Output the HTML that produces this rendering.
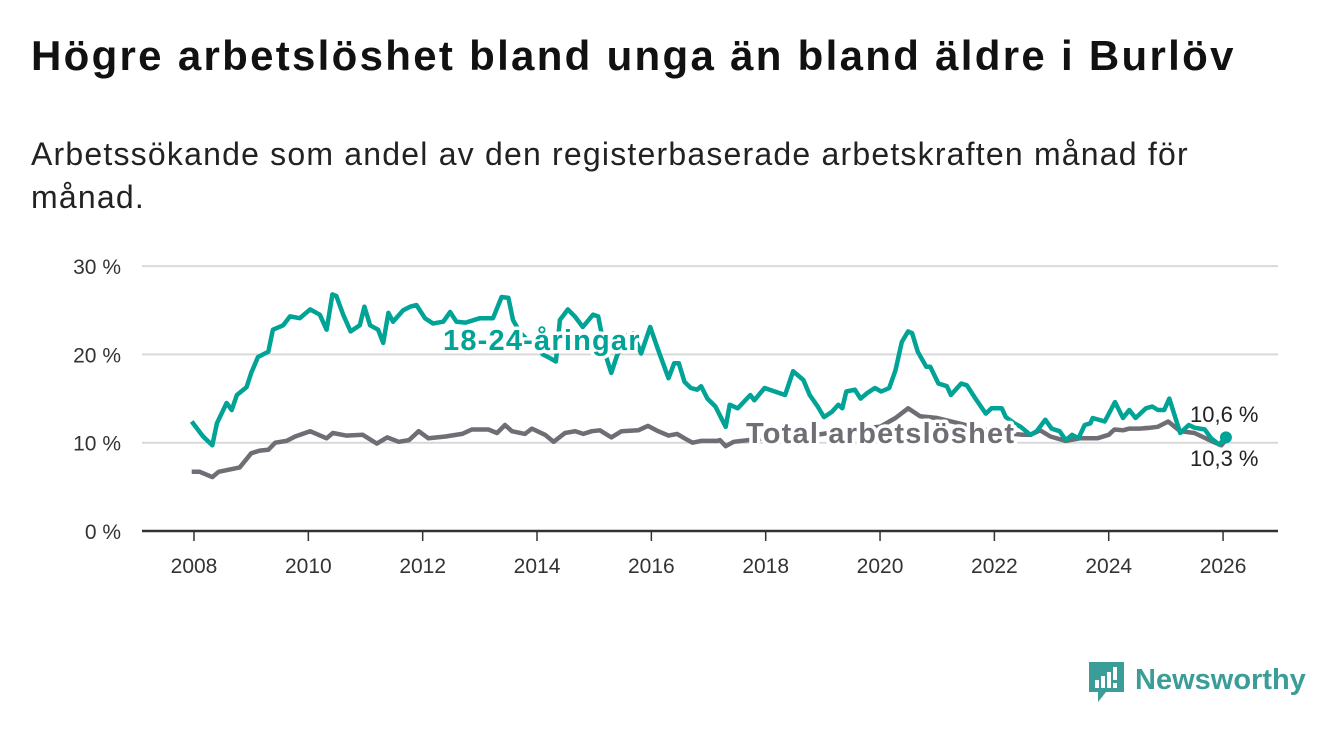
<!DOCTYPE html>
<html><head><meta charset="utf-8"><style>
body{margin:0;background:#fff;width:1340px;height:734px;overflow:hidden;font-family:"Liberation Sans",sans-serif}
#title{position:absolute;left:31px;top:32px;font-size:42px;letter-spacing:2.3px;font-weight:bold;color:#111;margin:0;white-space:nowrap}
#sub{position:absolute;left:31px;top:133px;font-size:32px;letter-spacing:1.2px;color:#222;line-height:43px;width:1210px}
svg{position:absolute;left:0;top:0}
</style></head><body>
<h1 id="title">Högre arbetslöshet bland unga än bland äldre i Burlöv</h1>
<div id="sub">Arbetssökande som andel av den registerbaserade arbetskraften månad för månad.</div>
<svg id="chart" width="1340" height="734"></svg>
<script>
const yTicks=[0,10,20,30];
const xTicks=[2008,2010,2012,2014,2016,2018,2020,2022,2024,2026];
const youthT=[2007.96,2008.16,2008.32,2008.4,2008.57,2008.66,2008.75,2008.92,2009.0,2009.12,2009.3,2009.38,2009.56,2009.68,2009.85,2010.03,2010.2,2010.32,2010.42,2010.49,2010.61,2010.74,2010.9,2010.98,2011.08,2011.22,2011.31,2011.4,2011.48,2011.66,2011.78,2011.89,2012.04,2012.18,2012.36,2012.48,2012.59,2012.75,2013.0,2013.23,2013.38,2013.5,2013.58,2013.7,2013.85,2014.0,2014.1,2014.22,2014.33,2014.4,2014.54,2014.66,2014.8,2014.98,2015.07,2015.21,2015.3,2015.39,2015.53,2015.68,2015.82,2015.98,2016.12,2016.3,2016.4,2016.48,2016.58,2016.69,2016.8,2016.87,2016.98,2017.12,2017.3,2017.37,2017.51,2017.73,2017.8,2017.98,2018.16,2018.34,2018.48,2018.66,2018.77,2018.91,2019.02,2019.16,2019.27,2019.34,2019.41,2019.56,2019.66,2019.77,2019.91,2020.02,2020.16,2020.27,2020.38,2020.49,2020.56,2020.66,2020.81,2020.88,2021.02,2021.17,2021.24,2021.42,2021.52,2021.67,2021.85,2021.95,2022.13,2022.2,2022.35,2022.46,2022.63,2022.74,2022.89,2023.0,2023.14,2023.25,2023.36,2023.47,2023.58,2023.68,2023.72,2023.93,2024.11,2024.25,2024.36,2024.47,2024.65,2024.76,2024.86,2024.97,2025.06,2025.25,2025.4,2025.5,2025.68,2025.79,2025.93,2026.05];
const youthV=[12.4,10.7,9.7,12.2,14.5,13.7,15.4,16.3,17.9,19.7,20.3,22.8,23.3,24.3,24.1,25.1,24.5,22.8,26.8,26.6,24.5,22.6,23.3,25.4,23.3,22.8,21.3,24.7,23.7,25.0,25.4,25.6,24.1,23.5,23.7,24.8,23.7,23.6,24.1,24.1,26.5,26.4,23.9,22.5,21.5,21.0,20.0,19.6,19.2,23.9,25.1,24.3,23.1,24.5,24.3,19.7,17.9,19.7,22.0,22.4,20.1,23.1,20.5,17.3,19.0,19.0,16.9,16.2,16.0,16.4,15.0,14.1,11.8,14.3,13.9,15.4,14.8,16.2,15.8,15.4,18.1,17.1,15.4,14.1,12.9,13.5,14.3,13.9,15.8,16.0,15.0,15.6,16.2,15.8,16.2,18.2,21.4,22.6,22.4,20.3,18.6,18.6,16.7,16.4,15.4,16.7,16.5,15.0,13.3,13.9,13.9,12.9,12.2,11.8,10.9,11.3,12.6,11.6,11.3,10.3,10.9,10.5,12.0,12.2,12.8,12.4,14.6,12.8,13.7,12.8,13.9,14.1,13.7,13.7,15.0,11.1,12.0,11.7,11.5,10.5,9.8,10.6];
const totalT=[2007.96,2008.1,2008.32,2008.43,2008.8,2009.0,2009.15,2009.3,2009.42,2009.62,2009.77,2010.03,2010.32,2010.43,2010.66,2010.95,2011.2,2011.38,2011.58,2011.76,2011.93,2012.1,2012.4,2012.69,2012.86,2013.15,2013.3,2013.44,2013.56,2013.79,2013.91,2014.14,2014.29,2014.49,2014.67,2014.81,2014.96,2015.1,2015.3,2015.48,2015.77,2015.94,2016.12,2016.3,2016.45,2016.58,2016.72,2016.87,2017.15,2017.2,2017.3,2017.44,2017.58,2018.0,2018.5,2019.0,2019.5,2020.0,2020.27,2020.49,2020.7,2021.0,2021.5,2022.0,2022.5,2022.63,2022.8,2022.98,2023.25,2023.5,2023.8,2024.0,2024.1,2024.25,2024.36,2024.54,2024.73,2024.86,2025.04,2025.25,2025.5,2025.79,2025.97,2026.05];
const totalV=[6.7,6.7,6.1,6.7,7.2,8.8,9.1,9.2,10.0,10.2,10.7,11.3,10.5,11.1,10.8,10.9,9.9,10.6,10.1,10.3,11.3,10.5,10.7,11.0,11.5,11.5,11.1,12.0,11.3,11.0,11.6,10.9,10.1,11.1,11.3,11.0,11.3,11.4,10.6,11.3,11.4,11.9,11.3,10.8,11.0,10.5,10.0,10.2,10.2,10.3,9.6,10.1,10.2,10.5,10.6,11.0,11.5,11.8,12.8,13.9,13.0,12.8,12.0,11.2,10.9,10.9,11.4,10.7,10.2,10.5,10.5,10.9,11.5,11.4,11.6,11.6,11.7,11.8,12.4,11.3,11.1,10.2,9.7,10.3];
const NS='http://www.w3.org/2000/svg';
const svg=document.getElementById('chart');
const x=t=>194+(t-2008)*57.17;
const y=v=>531-v*8.83;
function mk(tag,attrs,parent){const e=document.createElementNS(NS,tag);for(const k in attrs)e.setAttribute(k,attrs[k]);(parent||svg).appendChild(e);return e;}
yTicks.forEach(v=>{
  if(v>0){const g=mk('line',{x1:142,x2:1278,y1:y(v),y2:y(v),stroke:'#d9d9d9','stroke-width':2});
  
  }
  const t=mk('text',{x:121,y:y(v)+8,'text-anchor':'end','font-size':21,fill:'#333'});
  t.textContent=v+' %';
  
  
});
const ax=mk('line',{x1:142,x2:1278,y1:531,y2:531,stroke:'#333','stroke-width':2.5});


xTicks.forEach(yr=>{
  const tk=mk('line',{x1:x(yr),x2:x(yr),y1:531,y2:541,stroke:'#333','stroke-width':1.5});
  
  
  const t=mk('text',{x:x(yr),y:573,'text-anchor':'middle','font-size':21,fill:'#333'});
  t.textContent=yr;
  
  
});
function line(T,V,color,name){
  const d=T.map((t,i)=>(i?'L':'M')+x(t).toFixed(1)+','+y(V[i]).toFixed(1)).join('');
  const p=mk('path',{d:d,fill:'none',stroke:color,'stroke-width':4.5,'stroke-linejoin':'round'});
  
  
  return p;
}
line(totalT,totalV,'#6f6e75','total-line');
line(youthT,youthV,'#00a396','youth-line');
const dot=mk('circle',{cx:x(youthT[youthT.length-1]),cy:y(youthV[youthV.length-1]),r:6,fill:'#00a396'});


function lbl(txt,px,py,color,size,bold,ls,name){
  const t=mk('text',{x:px,y:py,'font-size':size,'letter-spacing':ls,fill:color,'font-weight':bold?'bold':'normal',stroke:'#fff','stroke-width':bold?7:0,'paint-order':'stroke','stroke-linejoin':'round'});
  t.textContent=txt;
  
  
}
lbl('18-24-åringar',443,350,'#00a396',29,true,1.2,'youth-series-label');
lbl('Total arbetslöshet',746,443,'#6f6e75',29,true,1.2,'total-series-label');
lbl('10,6 %',1190,422,'#222',22,false,0,'youth-end-value');
lbl('10,3 %',1190,466,'#222',22,false,0,'total-end-value');
const lg=mk('g',{});


mk('path',{d:'M1089 662h35v30h-18l-8 10v-10h-9z',fill:'#3a9d97'},lg);
mk('rect',{x:1095,y:680,width:4,height:8,fill:'#fff'},lg);
mk('rect',{x:1101,y:676,width:4,height:12,fill:'#fff'},lg);
mk('rect',{x:1107,y:672,width:4,height:16,fill:'#fff'},lg);
mk('rect',{x:1113,y:667,width:4,height:13,fill:'#fff'},lg);
mk('rect',{x:1113,y:683,width:4,height:5,fill:'#fff'},lg);
const lt=mk('text',{x:1135,y:689,'font-size':29,fill:'#3a9d97','font-weight':'bold'},lg);
lt.textContent='Newsworthy';
</script>
</body></html>
